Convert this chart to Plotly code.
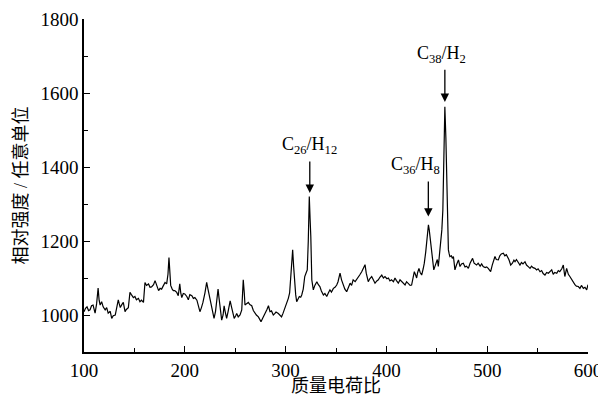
import plotly.graph_objects as go

mass = [100, 101.5, 103, 104.5, 106, 107.5, 109, 110, 111, 112.5, 114, 115, 116, 117.5, 119, 121, 122.5, 124, 126, 127.5,
        129, 131, 132.5, 134, 135, 136, 137.5, 139, 140.7, 142, 144, 145.6, 147, 149, 150.5, 152, 154, 155.5, 157, 159,
        160.5, 162, 164, 165.5, 167, 169, 170.5, 172, 174, 175.5, 177, 178.5, 180.4, 182, 183.3, 184.3, 185.2, 186, 187.5, 188.6,
        190, 192, 193.5, 195, 196, 197, 198.5, 200, 202, 203.5, 205, 207, 208.5, 210, 212, 213.4, 215, 216.5, 218, 220,
        221.7, 223, 225, 226.7, 228, 229, 230.5, 231.6, 233, 234, 235, 236.6, 238, 239, 240, 241.5, 243, 245, 246.5, 248,
        249, 250.5, 251.5, 253, 254.8, 256.5, 257.3, 258, 259, 259.7, 261, 263, 264.5, 266.4, 268, 269.6, 271, 273, 274.5, 275.6,
        277, 278, 280, 281.5, 283, 284.5, 286, 287.8, 289, 290.5, 292.8, 294.5, 296, 297.5, 299.4, 301, 302.7, 304, 305, 306,
        307, 308, 309, 310, 311, 312.5, 313.6, 315, 316, 317.5, 319, 320.5, 321.5, 322.5, 323.5, 324.3, 325, 326, 327.5, 329,
        331, 332.5, 334, 335.5, 337.5, 339, 340.8, 342.5, 344, 345.5, 347.4, 349, 350.7, 352, 354, 355.5, 357, 358.8, 360.6, 362,
        364, 365.5, 367, 369, 370.5, 372, 373.5, 375.5, 377, 378.8, 380, 380.5, 382, 383.5, 385.4, 387, 388.7, 390.5, 392, 393.5,
        395.4, 397, 398.6, 400.5, 402, 403.5, 405, 407, 408.5, 410, 411.8, 413.5, 415, 416.8, 418.5, 420, 421.7, 423.5, 425, 426.5,
        427.7, 429, 430, 431, 432.3, 433.5, 435, 436.5, 437.6, 439, 440, 441, 441.7, 442.5, 443.3, 444, 445, 446, 447, 448,
        449, 450.5, 451.5, 452.5, 454, 455, 456, 457, 458, 459, 460, 461, 461.5, 462.3, 463, 464.5, 465.4, 466.5, 468, 469.5,
        470.7, 471.5, 473, 474.5, 476.3, 478, 479.5, 481.3, 483, 485.5, 487, 489.5, 491, 493, 494.5, 496, 498, 499.5, 501, 502.5,
        503.4, 505, 506.5, 507.7, 509, 511, 512.5, 514, 516, 517.5, 519, 520, 521.5, 523.3, 525, 526.5, 527.6, 529, 531, 532.5,
        534, 535.5, 537.5, 539, 541, 542.5, 544, 545.5, 547.4, 549, 550.5, 552.4, 554, 555.5, 557.3, 559, 560.7, 562.5, 564, 565.5,
        567, 569, 570.5, 572, 574, 575.5, 576.5, 577, 578.8, 580.5, 582, 584, 585.4, 587, 588.5, 590.4, 592, 593.5, 595.4, 597,
        598.7, 600]

intensity = [1009, 1018, 1022, 1012, 1014, 1025, 1027, 1015, 1005, 1030, 1073, 1040, 1027, 1036, 1022, 1014, 1020, 1005, 1010, 991,
             998, 1000, 1020, 1041, 1030, 1020, 1028, 1034, 1009, 1015, 1020, 1061, 1055, 1047, 1050, 1041, 1045, 1036, 1040, 1034,
             1088, 1080, 1084, 1075, 1076, 1082, 1093, 1080, 1066, 1072, 1070, 1078, 1088, 1084, 1110, 1155, 1110, 1080, 1070, 1066,
             1066, 1061, 1052, 1084, 1060, 1047, 1058, 1057, 1050, 1041, 1055, 1052, 1045, 1047, 1040, 1027, 1009, 1020, 1034, 1060,
             1088, 1070, 1045, 1020, 1000, 991, 1010, 1034, 1070, 1045, 1020, 986, 1000, 1025, 1010, 991, 1010, 1038, 1020, 1000,
             991, 998, 1004, 995, 1000, 1014, 1050, 1095, 1060, 1027, 1030, 1034, 1028, 1025, 1012, 1004, 1000, 995, 988, 982,
             990, 995, 1005, 1015, 1025, 1009, 1011, 1000, 1003, 1008, 1004, 1000, 995, 1005, 1018, 1030, 1045, 1060, 1095, 1140,
             1176, 1130, 1086, 1055, 1036, 1045, 1050, 1048, 1054, 1070, 1104, 1115, 1122, 1200, 1320, 1260, 1213, 1095, 1068, 1080,
             1090, 1082, 1077, 1065, 1054, 1058, 1050, 1060, 1068, 1062, 1072, 1075, 1081, 1090, 1113, 1095, 1081, 1070, 1063, 1075,
             1086, 1080, 1095, 1090, 1095, 1100, 1108, 1117, 1125, 1136, 1113, 1108, 1090, 1098, 1104, 1095, 1086, 1092, 1095, 1102,
             1108, 1100, 1104, 1098, 1100, 1092, 1095, 1090, 1100, 1093, 1086, 1095, 1090, 1085, 1081, 1090, 1086, 1080, 1081, 1100,
             1117, 1108, 1100, 1115, 1126, 1115, 1108, 1125, 1140, 1170, 1194, 1225, 1244, 1230, 1208, 1185, 1158, 1135, 1122, 1130,
             1140, 1150, 1131, 1160, 1185, 1230, 1284, 1420, 1563, 1480, 1330, 1220, 1176, 1165, 1158, 1160, 1153, 1158, 1122, 1135,
             1144, 1149, 1131, 1138, 1140, 1130, 1132, 1126, 1140, 1153, 1140, 1135, 1140, 1132, 1138, 1131, 1128, 1130, 1126, 1120,
             1117, 1135, 1150, 1158, 1150, 1149, 1160, 1165, 1167, 1160, 1163, 1158, 1150, 1135, 1140, 1148, 1144, 1150, 1140, 1135,
             1142, 1138, 1144, 1135, 1130, 1126, 1132, 1128, 1126, 1122, 1125, 1117, 1120, 1112, 1108, 1115, 1113, 1118, 1122, 1110,
             1115, 1113, 1120, 1117, 1125, 1135, 1115, 1104, 1126, 1110, 1104, 1095, 1086, 1082, 1078, 1077, 1072, 1080, 1072, 1075,
             1068, 1082]

x_ticks = [100, 200, 300, 400, 500, 600]
y_ticks = [1000, 1200, 1400, 1600, 1800]

peak_labels = ["C<sub>26</sub>/H<sub>12</sub>", "C<sub>36</sub>/H<sub>8</sub>", "C<sub>38</sub>/H<sub>2</sub>"]
peak_mass = [324, 441.6, 458]
peak_head = [1330, 1266, 1576]
peak_tail = [1419, 1365, 1667]
label_x = [324, 429, 455]
label_y = [1457, 1403, 1703]

serif = "Liberation Serif, Times New Roman, Noto Sans CJK SC, serif"

fig = go.Figure()
fig.add_trace(go.Scatter(x=mass, y=intensity, mode="lines",
                         line=dict(color="black", width=1.2), showlegend=False))

for i in range(len(peak_labels)):
    fig.add_annotation(x=peak_mass[i], y=peak_head[i], ax=peak_mass[i], ay=peak_tail[i],
                       xref="x", yref="y", axref="x", ayref="y", text="",
                       showarrow=True, arrowhead=2, arrowsize=1.3, arrowwidth=1.3, arrowcolor="black")
    fig.add_annotation(x=label_x[i], y=label_y[i], xref="x", yref="y", text=peak_labels[i],
                       showarrow=False, font=dict(family=serif, size=18, color="black"))

# page body has an 8px margin, so the figure is 8px smaller and margins shifted
fig.update_layout(
    width=598, height=388,
    margin=dict(l=76, r=18, t=11, b=44, autoexpand=False),
    paper_bgcolor="white", plot_bgcolor="white",
    font=dict(family=serif, color="black"),
)
fig.update_xaxes(range=[100, 600], tickvals=x_ticks, ticktext=[str(v) for v in x_ticks], automargin=False,
                 showgrid=False, zeroline=False, showline=True, linecolor="black", linewidth=1.5,
                 ticks="inside", ticklen=6, tickwidth=1.3, tickcolor="black",
                 minor=dict(dtick=50, ticks="inside", ticklen=4, tickwidth=1.3, tickcolor="black", showgrid=False),
                 tickfont=dict(family=serif, size=19, color="black"),
                 title=dict(text="质量电荷比", font=dict(family=serif, size=18, color="black"), standoff=6))
fig.update_yaxes(range=[900, 1800], tickvals=y_ticks, ticktext=[str(v) for v in y_ticks], automargin=False,
                 showgrid=False, zeroline=False, showline=True, linecolor="black", linewidth=1.5,
                 ticks="inside", ticklen=6, tickwidth=1.3, tickcolor="black",
                 minor=dict(dtick=100, ticks="inside", ticklen=4, tickwidth=1.3, tickcolor="black", showgrid=False),
                 tickfont=dict(family=serif, size=19, color="black"),
                 title=dict(text="相对强度 / 任意单位", font=dict(family=serif, size=18, color="black"), standoff=8))

fig.write_html("out.html")
